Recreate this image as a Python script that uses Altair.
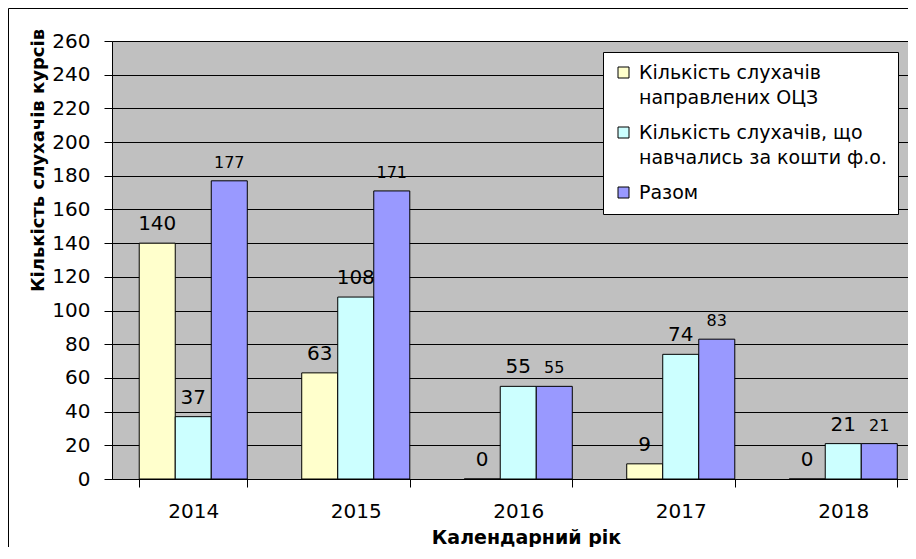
import altair as alt
import pandas as pd

years = ["2014", "2015", "2016", "2017", "2018"]
series = [
    "Кількість слухачів|направлених ОЦЗ",
    "Кількість слухачів, що|навчались за кошти ф.о.",
    "Разом",
]
directed = [140, 63, 0, 9, 0]
paid = [37, 108, 55, 74, 21]
total = [177, 171, 55, 83, 21]
colors = ["#FFFFCC", "#CCFFFF", "#9999FF"]

rows = []
for i, y in enumerate(years):
    for s, vals in zip(series, [directed, paid, total]):
        rows.append({"year": y, "series": s, "value": vals[i]})
df = pd.DataFrame(rows)

FONT = "DejaVu Sans"

x_enc = alt.X(
    "year:N",
    sort=years,
    scale=alt.Scale(range=[0, 812.5], paddingInner=0.335, paddingOuter=0.1675),
    axis=alt.Axis(
        title="Календарний рік",
        labelAngle=0,
        tickBand="extent",
        tickSize=8,
        labelPadding=14,
        labelFontSize=20,
        titleFontSize=19,
        titleFontWeight="bold",
        titleX=414,
        titleY=64,
        titleAlign="center",
        titleBaseline="alphabetic",
    ),
)
xoff = alt.XOffset("series:N", sort=series, scale=alt.Scale(paddingInner=0, paddingOuter=0))
y_enc = alt.Y(
    "value:Q",
    scale=alt.Scale(domain=[0, 260], nice=False),
    axis=alt.Axis(
        title="Кількість слухачів курсів",
        values=list(range(0, 261, 20)),
        tickSize=8,
        labelPadding=14,
        labelFontSize=20,
        titleFontSize=18,
        titleFontWeight="bold",
        titleAngle=-90,
        titleX=-69,
        titleY=119,
        titleAlign="center",
        titleBaseline="alphabetic",
        grid=True,
    ),
)

base = alt.Chart(df).encode(x=x_enc, xOffset=xoff, y=y_enc)

bars = base.mark_bar(stroke="black", strokeWidth=1).encode(
    color=alt.Color(
        "series:N",
        sort=series,
        scale=alt.Scale(domain=series, range=colors),
        legend=alt.Legend(
            title=None,
            orient="none",
            legendX=491,
            legendY=11,
            fillColor="white",
            strokeColor="black",
            padding=11,
            labelFontSize=19,
            labelExpr="split(datum.label, '|')",
            symbolType="square",
            symbolSize=121,
            symbolStrokeColor="black",
            symbolStrokeWidth=1,
            rowPadding=15,
            labelOffset=6,
            labelLimit=400,
        ),
    )
)

labels = base.mark_text(baseline="alphabetic", dy=-13, color="black", font=FONT).encode(
    text="value:Q",
    size=alt.condition("datum.series === 'Разом'", alt.value(16), alt.value(20)),
)

frame = alt.Chart(pd.DataFrame({"a": [0]})).mark_rect(
    fill=None, stroke="black", strokeWidth=1
).encode(
    x=alt.value(-103.5), x2=alt.value(1200), y=alt.value(-32.5), y2=alt.value(900)
)

chart = (
    alt.layer(bars, labels, frame)
    .properties(
        width=796,
        height=438,
        autosize=alt.AutoSizeParams(type="none"),
        padding={"left": 104, "top": 33, "right": 0, "bottom": 68},
        background="white",
    )
    .configure(font=FONT, style={"guide-label": {"lineHeight": 25}})
    .configure_view(fill="#C0C0C0", stroke="#808080")
    .configure_axis(
        domainColor="black",
        tickColor="black",
        gridColor="black",
        gridOpacity=1,
        labelColor="black",
        titleColor="black",
        labelFont=FONT,
        titleFont=FONT,
    )
    .configure_legend(labelFont=FONT, labelColor="black")
)

chart.save("out.html", embed_options={"renderer": "svg", "actions": False})
